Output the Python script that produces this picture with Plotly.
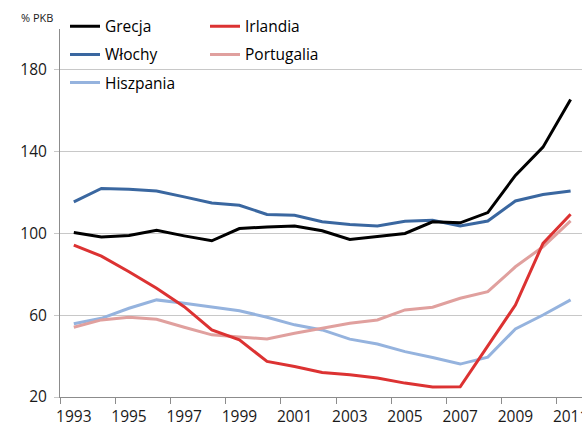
import plotly.graph_objects as go

years = [str(y) for y in range(1993, 2012)]
tick_labels = years[::2]

grecja = [100.5, 98.3, 99.0, 101.5, 98.8, 96.4, 102.4, 103.2, 103.6, 101.3,
          97.1, 98.7, 100.0, 105.7, 105.2, 110.2, 128.4, 142.2, 165.5]
wlochy = [115.4, 122.0, 121.6, 120.8, 117.9, 114.9, 113.8, 109.3, 108.9, 105.7,
          104.4, 103.7, 106.0, 106.5, 103.6, 106.1, 115.9, 119.0, 120.8]
hiszpania = [55.8, 58.5, 63.4, 67.5, 65.9, 63.9, 62.2, 59.0, 55.3, 52.8,
             48.3, 45.9, 42.2, 39.3, 36.1, 39.5, 53.3, 60.1, 67.5]
irlandia = [94.3, 88.9, 81.3, 73.2, 64.2, 52.8, 48.0, 37.4, 34.9, 32.0,
            30.9, 29.3, 26.8, 24.9, 25.0, 44.7, 65.0, 95.1, 109.4]
portugalia = [54.1, 57.7, 59.0, 58.0, 54.1, 50.4, 49.3, 48.4, 51.2, 53.7,
              56.1, 57.7, 62.6, 63.9, 68.3, 71.5, 83.7, 93.5, 106.1]

y_ticks = [20, 60, 100, 140, 180]

FONT = "Open Sans"
W, H = 582, 427
L, R, T, B = 60, 0, 29, 30
plot_w = W - L - R
plot_h = H - T - B

# (name, values, colour, legend, rank) in drawing order
series = [
    ("Hiszpania", hiszpania, "#95B3DE", "legend", 3),
    ("Portugalia", portugalia, "#E0A09E", "legend2", 2),
    ("Włochy", wlochy, "#3A67A0", "legend", 2),
    ("Grecja", grecja, "#000000", "legend", 1),
    ("Irlandia", irlandia, "#DC3232", "legend2", 1),
]

fig = go.Figure()
for name, vals, col, leg, rank in series:
    fig.add_trace(go.Scatter(
        x=years, y=vals, name=name, mode="lines",
        line=dict(color=col, width=3),
        legend=leg, legendrank=rank, legendgroup=name,
    ))

legend_common = dict(
    font=dict(family=FONT, size=15.5, color="#000000"),
    bgcolor="rgba(0,0,0,0)", borderwidth=0,
    itemwidth=30, tracegroupgap=5,
    xanchor="left", yanchor="top",
)

def px_x(p):
    return (p - L) / plot_w

def px_y(p):
    return (H - B - p) / plot_h

fig.update_layout(
    width=W, height=H,
    margin=dict(l=L, r=R, t=T, b=B, pad=0, autoexpand=False),
    paper_bgcolor="white", plot_bgcolor="white",
    font=dict(family=FONT, size=15.5, color="#1a1a1a"),
    showlegend=True,
    legend=dict(x=px_x(65), y=px_y(9.7), **legend_common),
    legend2=dict(x=px_x(205), y=px_y(9.7), **legend_common),
    xaxis=dict(
        type="category", categoryorder="array", categoryarray=years,
        range=[-0.5, -0.5 + plot_w / 27.6],
        tickmode="array", tickvals=tick_labels, ticktext=tick_labels,
        tickson="boundaries", ticks="outside", ticklen=6, tickcolor="#8c8c8c",
        tickangle=0, automargin=False,
        showline=True, linecolor="#8c8c8c", linewidth=1,
        showgrid=False, zeroline=False,
        ticklabelstandoff=5,
        tickfont=dict(family=FONT, size=15.5, color="#1a1a1a"),
    ),
    yaxis=dict(
        range=[20, 200], tickvals=y_ticks, automargin=False,
        ticks="outside", ticklen=5, tickcolor="#c8c8c8",
        showline=True, linecolor="#8c8c8c", linewidth=1,
        showgrid=True, gridcolor="#c8c8c8", gridwidth=1,
        zeroline=False,
        ticklabelstandoff=4,
        tickfont=dict(family=FONT, size=15.5, color="#1a1a1a"),
    ),
    annotations=[dict(
        text="% PKB", xref="paper", yref="paper",
        x=px_x(36.5), y=px_y(18), xanchor="center", yanchor="middle",
        showarrow=False, font=dict(family=FONT, size=11, color="#1a1a1a"),
    )],
)

fig.write_html(
    "out.html",
    config={"displayModeBar": False},
    post_script="document.body.style.margin='0';document.body.style.overflow='hidden';",
)
